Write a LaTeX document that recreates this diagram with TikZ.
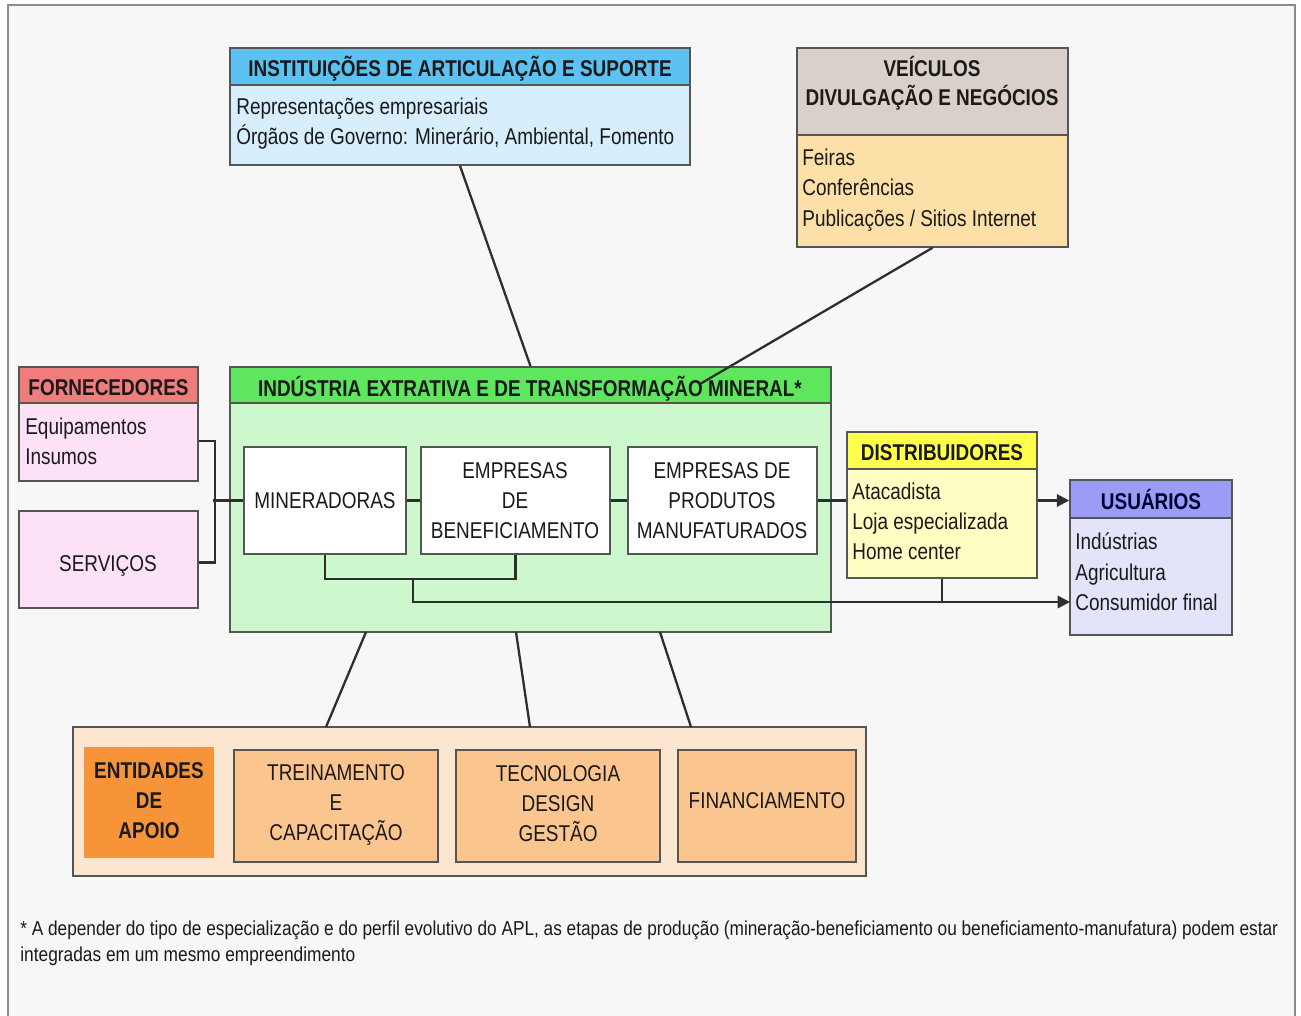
\documentclass[tikz,border=0pt]{standalone}
\usepackage{fontspec}
\setmainfont{Liberation Sans}
\newfontfamily\nf[FakeStretch=0.83]{Liberation Sans}
\newfontfamily\fnf{Liberation Sans}
\usetikzlibrary{fit,arrows.meta,calc}
\definecolor{bgc}{HTML}{F7F7F7}
\definecolor{framec}{HTML}{8C8C8C}
\definecolor{bordc}{HTML}{555555}
\definecolor{linec}{HTML}{2E2E2E}
\definecolor{txtc}{HTML}{1A1A1A}
\definecolor{instH}{HTML}{5CC2F2}
\definecolor{instB}{HTML}{D7EFFC}
\definecolor{veicH}{HTML}{D9D1C9}
\definecolor{veicB}{HTML}{FCE0A8}
\definecolor{fornH}{HTML}{F07C7C}
\definecolor{fornB}{HTML}{FCE1F7}
\definecolor{greenH}{HTML}{5EE65E}
\definecolor{greenB}{HTML}{CDF7CD}
\definecolor{distH}{HTML}{FFFF4D}
\definecolor{distB}{HTML}{FFFFC4}
\definecolor{usuH}{HTML}{9C9CF7}
\definecolor{usuB}{HTML}{E3E3FA}
\definecolor{apoioB}{HTML}{FDE6D0}
\definecolor{entC}{HTML}{F7943A}
\definecolor{apC}{HTML}{FBC590}
\begin{document}
\begin{tikzpicture}[x=0.02cm,y=-0.02cm,
  box/.style={draw=bordc,line width=0.9pt,inner sep=0pt},
  conn/.style={draw=linec,line width=1.3pt},
  arr/.style={conn,-{Triangle[length=7pt,width=7pt]}},
  hd/.style={font=\nf\bfseries\fontsize{13}{17}\selectfont,text=txtc,inner sep=0pt,text height=9.3pt,text depth=0pt},
  hdc/.style={hd,yshift=-1.2pt},
  bd/.style={font=\nf\fontsize{13}{17}\selectfont,text=txtc,inner sep=0pt,anchor=west,text height=9.3pt,text depth=0pt},
  ct/.style={font=\nf\fontsize{13}{17}\selectfont,text=txtc,inner sep=0pt,text height=9.3pt,text depth=0pt},
  ]
\useasboundingbox (0,0) rectangle (1301,1016);
\fill[white] (0,0) rectangle (1301,1016);
\fill[bgc] (8,5) rectangle (1295,1016);
\draw[framec,line width=1.6pt] (8,1016) -- (8,5) -- (1295,5) -- (1295,1016);

% Instituicoes
\node[box,fill=instB,fit={(230,48)(690,165)}] (inst) {};
\node[box,fill=instH,fit={(230,48)(690,85)}] (insth) {};
\node[hdc] (instt) at (insth) {INSTITUIÇÕES DE ARTICULAÇÃO E SUPORTE};
\node[bd] (inst1) at (236,106) {Representações empresariais};
\node[bd] (inst2) at (236,136) {Órgãos de Governo: Minerário, Ambiental, Fomento};

% Veiculos
\node[box,fill=veicB,fit={(797,48)(1068,247)}] (veic) {};
\node[box,fill=veicH,fit={(797,48)(1068,135)}] (veich) {};
\node[hd] (veict1) at (932,68) {VEÍCULOS};
\node[hd] (veict2) at (932,97) {DIVULGAÇÃO E NEGÓCIOS};
\node[bd] (veic1) at (802,157) {Feiras};
\node[bd] (veic2) at (802,187) {Conferências};
\node[bd] (veic3) at (802,218) {Publicações / Sitios Internet};

% Fornecedores
\node[box,fill=fornB,fit={(19,367)(198,481)}] (forn) {};
\node[box,fill=fornH,fit={(19,367)(198,403)}] (fornh) {};
\node[hdc] (fornt) at (fornh) {FORNECEDORES};
\node[bd] (forn1) at (25,426) {Equipamentos};
\node[bd] (forn2) at (25,456) {Insumos};
\node[box,fill=fornB,fit={(19,511)(198,608)}] (serv) {};
\node[ct] (servt) at (108,563) {SERVIÇOS};

% Industria
\node[box,fill=greenB,fit={(230,367)(831,632)}] (green) {};
\node[box,fill=greenH,fit={(230,367)(831,403)}] (greenh) {};
\node[hdc] (greent) at (530,386) {INDÚSTRIA EXTRATIVA E DE TRANSFORMAÇÃO MINERAL*};

\node[box,fill=white,fit={(244,447)(406,554)}] (min) {};
\node[ct] (mint) at (min) {MINERADORAS};
\node[box,fill=white,fit={(421,447)(610,554)}] (benef) {};
\node[ct] (benef1) at (515,470) {EMPRESAS};
\node[ct] (benef2) at (515,500) {DE};
\node[ct] (benef3) at (515,530) {BENEFICIAMENTO};
\node[box,fill=white,fit={(628,447)(817,554)}] (manuf) {};
\node[ct] (manuf1) at (722,470) {EMPRESAS DE};
\node[ct] (manuf2) at (722,500) {PRODUTOS};
\node[ct] (manuf3) at (722,530) {MANUFATURADOS};

% Distribuidores
\node[box,fill=distB,fit={(847,432)(1037,578)}] (dist) {};
\node[box,fill=distH,fit={(847,432)(1037,469)}] (disth) {};
\node[hdc] (distt) at (disth) {DISTRIBUIDORES};
\node[bd] (dist1) at (852,491) {Atacadista};
\node[bd] (dist2) at (852,521) {Loja especializada};
\node[bd] (dist3) at (852,551) {Home center};

% Usuarios
\node[box,fill=usuB,fit={(1070,480)(1232,635)}] (usu) {};
\node[box,fill=usuH,fit={(1070,480)(1232,518)}] (usuh) {};
\node[hdc,text=black!80!blue] (usut) at (usuh) {USUÁRIOS};
\node[bd] (usu1) at (1075,541) {Indústrias};
\node[bd] (usu2) at (1075,572) {Agricultura};
\node[bd] (usu3) at (1075,602) {Consumidor final};

% Entidades de apoio
\node[box,fill=apoioB,fit={(73,727)(866,876)}] (apoio) {};
\node[fill=entC,inner sep=0pt,fit={(84,747)(214,858)}] (ent) {};
\node[hd] (ent1) at (149,770) {ENTIDADES};
\node[hd] (ent2) at (149,800) {DE};
\node[hd] (ent3) at (149,830) {APOIO};
\node[box,fill=apC,fit={(234,750)(438,862)}] (trein) {};
\node[ct] (trein1) at (336,772) {TREINAMENTO};
\node[ct] (trein2) at (336,802) {E};
\node[ct] (trein3) at (336,832) {CAPACITAÇÃO};
\node[box,fill=apC,fit={(456,750)(660,862)}] (tec) {};
\node[ct] (tec1) at (558,773) {TECNOLOGIA};
\node[ct] (tec2) at (558,803) {DESIGN};
\node[ct] (tec3) at (558,833) {GESTÃO};
\node[box,fill=apC,fit={(678,750)(856,862)}] (fin) {};
\node[ct] (fint) at (767,800) {FINANCIAMENTO};

% connectors
\draw[conn] (inst.south) -- (green.north);
\coordinate (vend) at (700,384);
\draw[conn] (veic.south) -- (vend);
\draw[conn] ($(forn.south east)+(0,-41)$) -- ++(16,0) |- ($(serv.east)+(0,3)$);
\draw[conn] (min.west) -- ++(-30,0);
\draw[conn] (min) -- (benef);
\draw[conn] (benef) -- (manuf);
\draw[conn] (manuf.east) -- (manuf.east -| dist.west);
\draw[arr] (manuf.east -| dist.east) -- (manuf.east -| usu.west);
\draw[conn] (min.south) -- ++(0,24) -| (benef.south);
\coordinate (j1) at (413,578);
\draw[arr] (j1) |- (1070,602);
\draw[conn] (dist.south) -- (942,602);
\coordinate (g1) at (366,632);
\coordinate (g2) at (516,632);
\coordinate (g3) at (660,632);
\coordinate (a1) at (326,727);
\coordinate (a2) at (530,727);
\coordinate (a3) at (691,727);
\draw[conn] (g1) -- (a1);
\draw[conn] (g2) -- (a2);
\draw[conn] (g3) -- (a3);

% footnote
\node[anchor=west,inner sep=0pt,text=txtc] (fn1) at (20,930) {\resizebox{25.16cm}{\height}{\fnf\fontsize{11.5}{14}\selectfont * A depender do tipo de especialização e do perfil evolutivo do APL, as etapas de produção (mineração-beneficiamento ou beneficiamento-manufatura) podem estar}};
\node[anchor=west,inner sep=0pt,text=txtc] (fn2) at (20,956) {\resizebox{6.7cm}{\height}{\fnf\fontsize{11.5}{14}\selectfont integradas em um mesmo empreendimento}};
\end{tikzpicture}
\end{document}
